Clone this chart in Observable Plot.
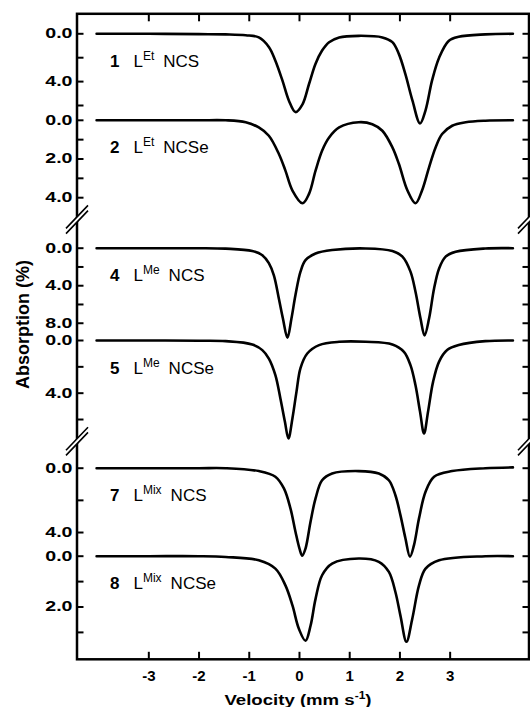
<!DOCTYPE html>
<html>
<head>
<meta charset="utf-8">
<script src="https://cdn.jsdelivr.net/npm/d3@7"></script>
<script src="https://cdn.jsdelivr.net/npm/@observablehq/plot@0.6"></script>
<style>
  html, body { margin: 0; padding: 0; background: #fff; }
  #chart { width: 530px; height: 707px; }
</style>
</head>
<body>
<div id="chart"></div>
<script>
// ---------------- data ----------------
const spectrumIds = ["1", "2", "4", "5", "7", "8"];
const ligands = ["Et", "Et", "Me", "Me", "Mix", "Mix"];
const anions = ["NCS", "NCSe", "NCS", "NCSe", "NCS", "NCSe"];

// velocity (mm/s) and absorption (%) for each spectrum
const velocity1 = [-4.04, -3.0, -2.0, -1.47, -1.07, -0.81, -0.61, -0.48, -0.34, -0.21, -0.08, 0.06, 0.19, 0.32, 0.45, 0.59, 0.79, 1.18, 1.65, 1.85, 1.98, 2.11, 2.25, 2.40, 2.51, 2.64, 2.78, 2.97, 3.17, 3.70, 4.25];
const absorption1 = [0, 0, 0.03, 0.05, 0.12, 0.3, 1.1, 2.25, 3.9, 5.6, 6.55, 5.9, 4.2, 2.5, 1.4, 0.7, 0.3, 0.17, 0.3, 0.7, 1.7, 3.4, 5.6, 7.5, 6.4, 3.9, 2.0, 0.6, 0.25, 0.05, 0];

const velocity2 = [-4.04, -3.0, -2.0, -1.47, -1.07, -0.81, -0.61, -0.41, -0.28, -0.14, 0.06, 0.19, 0.32, 0.45, 0.59, 0.79, 1.18, 1.45, 1.65, 1.85, 1.98, 2.15, 2.31, 2.44, 2.58, 2.71, 2.84, 3.04, 3.31, 3.70, 4.25];
const absorption2 = [0, 0, 0, 0, 0.1, 0.37, 0.8, 1.74, 2.6, 3.63, 4.29, 3.8, 2.6, 1.57, 0.89, 0.37, 0.1, 0.2, 0.54, 1.4, 2.26, 3.63, 4.29, 3.63, 2.43, 1.4, 0.71, 0.28, 0.1, 0.02, 0];

const velocity4 = [-4.04, -3.0, -2.0, -1.47, -0.94, -0.74, -0.61, -0.51, -0.41, -0.33, -0.24, -0.16, -0.08, 0.02, 0.12, 0.32, 0.65, 1.32, 1.85, 2.05, 2.21, 2.31, 2.41, 2.49, 2.58, 2.68, 2.78, 2.91, 3.11, 3.70, 4.25];
const absorption4 = [0, 0, 0, 0.05, 0.3, 0.75, 1.6, 2.9, 5.4, 7.5, 9.55, 7.5, 5.0, 2.5, 1.28, 0.57, 0.2, 0.03, 0.3, 0.9, 2.5, 4.65, 7.5, 9.3, 7.5, 4.3, 2.16, 0.9, 0.38, 0.03, 0];

const velocity5 = [-4.04, -3.0, -2.0, -1.47, -0.94, -0.74, -0.61, -0.48, -0.38, -0.29, -0.22, -0.14, -0.06, 0.02, 0.155, 0.39, 0.79, 1.32, 1.85, 2.08, 2.21, 2.31, 2.40, 2.48, 2.56, 2.66, 2.78, 2.94, 3.17, 3.70, 4.25];
const absorption5 = [0, 0, 0.02, 0.05, 0.3, 0.73, 1.37, 2.63, 4.4, 6.17, 7.44, 5.9, 3.9, 2.1, 0.99, 0.35, 0.1, 0.1, 0.3, 0.86, 1.87, 3.4, 5.4, 7.06, 5.4, 3.14, 1.6, 0.73, 0.35, 0.05, 0];

const velocity7 = [-4.04, -3.0, -2.0, -1.47, -0.81, -0.48, -0.31, -0.18, -0.08, 0.0, 0.055, 0.12, 0.22, 0.32, 0.45, 0.65, 1.18, 1.58, 1.78, 1.91, 2.01, 2.11, 2.20, 2.28, 2.38, 2.51, 2.68, 3.04, 3.70, 4.25];
const absorption7 = [0, 0, 0, 0, 0.18, 0.53, 1.26, 2.5, 3.95, 5.0, 5.44, 5.0, 3.33, 1.88, 0.75, 0.33, 0.18, 0.33, 0.75, 1.68, 2.92, 4.37, 5.5, 4.78, 3.12, 1.47, 0.53, 0.18, 0, -0.05];

const velocity8 = [-4.04, -3.0, -2.0, -1.47, -0.81, -0.48, -0.28, -0.14, -0.01, 0.12, 0.22, 0.32, 0.45, 0.65, 1.18, 1.58, 1.78, 1.91, 2.01, 2.13, 2.245, 2.38, 2.51, 2.78, 3.70, 4.25];
const absorption8 = [0, 0, 0, 0.03, 0.16, 0.49, 1.15, 1.94, 2.87, 3.33, 2.74, 1.68, 0.75, 0.29, 0.09, 0.22, 0.62, 1.41, 2.34, 3.37, 2.47, 1.15, 0.49, 0.16, 0, 0];

// tick values (absorption %) per spectrum
const labeledTicks = [[0, 4], [0, 2, 4], [0, 4, 8], [0, 4], [0, 4], [0, 2]];
const minorTicks = [[2, 6], [1, 3], [2, 6], [2, 6], [2], [1, 3]];
const velocityTicks = [-3, -2, -1, 0, 1, 2, 3];

// ---------------- layout (stacked offset axis) ----------------
const layout = {
  xDomain: [-4.43, 4.57],
  stackDomain: [645.5, 0],
  base: [20.0, 106.5, 234.4, 326.7, 454.4, 542.4],   // stack position of 0 %
  gain: [11.95, 19.35, 9.38, 13.17, 16.08, 25.4],     // stack units per 1 %
  breaks: [205.7, 427.5],
  labelDx: 33, labelDy: 33
};
const FONT = '"Liberation Sans", Arial, Helvetica, sans-serif';

const velocities = [velocity1, velocity2, velocity4, velocity5, velocity7, velocity8];
const absorptions = [absorption1, absorption2, absorption4, absorption5, absorption7, absorption8];

const rows = spectrumIds.flatMap((id, k) =>
  velocities[k].map((v, i) => ({
    spectrum: id,
    velocity: v,
    absorption: absorptions[k][i],
    stack: layout.base[k] + absorptions[k][i] * layout.gain[k]
  }))
);

const tickRows = spectrumIds.flatMap((id, k) => [
  ...labeledTicks[k].map(t => ({pos: layout.base[k] + t * layout.gain[k], label: t.toFixed(1)})),
  ...minorTicks[k].map(t => ({pos: layout.base[k] + t * layout.gain[k], label: ""}))
]);
const allTickPos = tickRows.map(d => d.pos);
const labeledRows = tickRows.filter(d => d.label !== "");
const labelMap = new Map(labeledRows.map(d => [d.pos, d.label]));

const specLabels = spectrumIds.map((id, k) => ({id, ligand: ligands[k], anion: anions[k], pos: layout.base[k]}));

// custom break symbols "//"
const breakLines = {
  draw(ctx) {
    for (const o of [-2.6, 2.6]) { ctx.moveTo(-11, 11.5 + o); ctx.lineTo(11, -11.5 + o); }
  }
};
const breakFill = {
  draw(ctx) {
    ctx.moveTo(-11, 11.5 - 2.6); ctx.lineTo(11, -11.5 - 2.6);
    ctx.lineTo(11, -11.5 + 2.6); ctx.lineTo(-11, 11.5 + 2.6); ctx.closePath();
  }
};

const plot = Plot.plot({
  width: 530,
  height: 707,
  marginTop: 13.3,
  marginLeft: 76.5,
  marginRight: 1.5,
  marginBottom: 48.2,
  style: {fontFamily: FONT, background: "white", color: "black", overflow: "visible"},
  x: {domain: layout.xDomain},
  y: {domain: layout.stackDomain},
  marks: [
    Plot.line(rows, {x: "velocity", y: "stack", z: "spectrum", stroke: "black", strokeWidth: 2.6, curve: "catmull-rom"}),
    Plot.frame({stroke: "black", strokeWidth: 2.5}),
    Plot.axisX(velocityTicks, {anchor: "bottom", tickSize: -7, strokeWidth: 2, tickFormat: () => "", label: null}),
    Plot.axisX(velocityTicks, {anchor: "top", tickSize: -7, strokeWidth: 2, tickFormat: () => "", label: null}),
    Plot.axisX(velocityTicks, {anchor: "bottom", tickSize: 0, tickPadding: 11, tickFormat: d => String(d), label: null, fontSize: 15, fontWeight: "bold"}),
    Plot.axisY(allTickPos, {anchor: "left", tickSize: -7, strokeWidth: 2, tickFormat: () => "", label: null}),
    Plot.axisY(allTickPos, {anchor: "right", tickSize: -7, strokeWidth: 2, tickFormat: () => "", label: null}),
    Plot.axisY(labeledRows.map(d => d.pos), {anchor: "left", tickSize: 0, tickPadding: 4.5, tickFormat: d => labelMap.get(d), label: null, fontSize: 14, fontWeight: "bold"}),
    Plot.dot(layout.breaks, {y: d => d, frameAnchor: "left", symbol: breakFill, fill: "white", stroke: "none"}),
    Plot.dot(layout.breaks, {y: d => d, frameAnchor: "right", symbol: breakFill, fill: "white", stroke: "none"}),
    Plot.dot(layout.breaks, {y: d => d, frameAnchor: "left", symbol: breakLines, fill: "none", stroke: "black", strokeWidth: 1.6}),
    Plot.dot(layout.breaks, {y: d => d, frameAnchor: "right", symbol: breakLines, fill: "none", stroke: "black", strokeWidth: 1.6}),
    Plot.text(specLabels, {y: "pos", frameAnchor: "left", dx: layout.labelDx, dy: layout.labelDy, text: d => `${d.id} L${d.ligand} ${d.anion}`, textAnchor: "start", lineAnchor: "bottom", fontSize: 17, fill: "black"}),
    Plot.text(["Velocity (mm s-1)"], {text: d => d, frameAnchor: "bottom", dx: -5, dy: 45.5, textAnchor: "middle", lineAnchor: "bottom", fontSize: 15.5, fontWeight: "bold", fill: "black"}),
    Plot.text(["Absorption (%)"], {text: d => d, frameAnchor: "left", dx: -54, dy: -12, rotate: -90, textAnchor: "middle", lineAnchor: "middle", fontSize: 18, fontWeight: "bold", fill: "black"})
  ]
});

document.getElementById("chart").appendChild(plot);

// ---- text refinements (superscripts, horizontal stretch) ----
const NS = "http://www.w3.org/2000/svg";
function stretch(el, s) {
  const x = parseFloat(el.getAttribute("x")) || 0;
  const t = el.getAttribute("transform") || "";
  el.setAttribute("transform", `${t} translate(${x},0) scale(${s},1) translate(${-x},0)`);
}
function tspan(parent, text, attrs = {}) {
  const ts = document.createElementNS(NS, "tspan");
  for (const [k, v] of Object.entries(attrs)) ts.setAttribute(k, v);
  ts.textContent = text;
  parent.appendChild(ts);
}
const specById = new Map(specLabels.map(d => [d.id, d]));
plot.querySelectorAll("text").forEach(el => {
  const s = el.textContent;
  if (/^\d\.\d$/.test(s)) {
    el.setAttribute("font-weight", "bold");
    stretch(el, 1.4);
  } else if (/^-?\d$/.test(s)) {
    el.setAttribute("font-weight", "bold");
  } else if (/^\d L(Et|Me|Mix) NCSe?$/.test(s)) {
    const d = specById.get(s[0]);
    el.textContent = "";
    tspan(el, d.id, {"font-weight": "bold"});
    tspan(el, "L", {dx: "14"});
    tspan(el, d.ligand, {dy: "-7", "font-size": "12"});
    tspan(el, d.anion, {dy: "7", dx: "9"});
  } else if (s.startsWith("Velocity")) {
    el.textContent = "";
    tspan(el, "Velocity (mm s");
    tspan(el, "-1", {dy: "-6", "font-size": "10"});
    tspan(el, ")", {dy: "6"});
    stretch(el, 1.2);
  }
});
</script>
</body>
</html>
